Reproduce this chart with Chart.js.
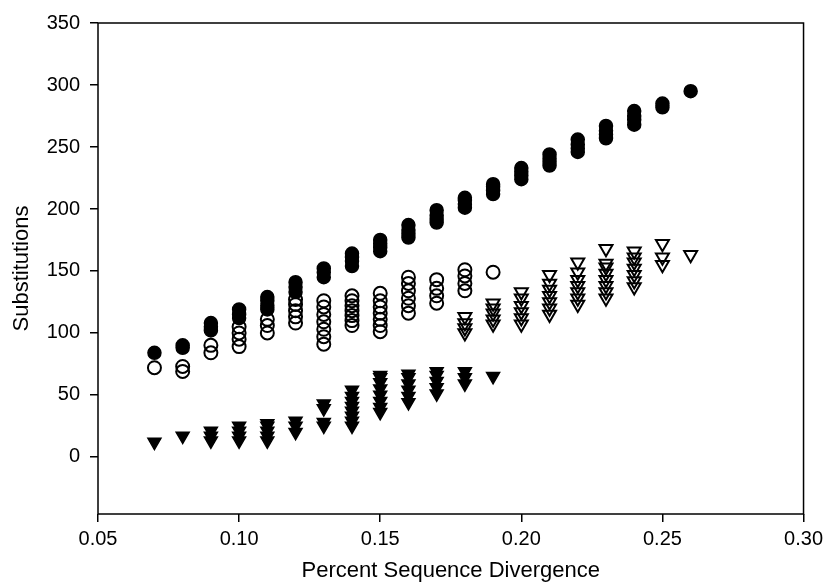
<!DOCTYPE html>
<html>
<head>
<meta charset="utf-8">
<script src="https://cdn.jsdelivr.net/npm/chart.js@4/dist/chart.umd.min.js"></script>
<style>
    body { margin: 0; background: #fff; }
    #wrap { width: 828px; height: 587px; position: relative; }
</style>
</head>
<body>
<div id="wrap"><canvas id="divergenceChart"></canvas></div>
<script>
// x columns (percent sequence divergence)
const divergence = [0.07, 0.08, 0.09, 0.10, 0.11, 0.12, 0.13, 0.14, 0.15, 0.16,
                    0.17, 0.18, 0.19, 0.20, 0.21, 0.22, 0.23, 0.24, 0.25, 0.26];

// substitutions, one list per column
const filledCircles = [
    [84], [88, 90], [102, 105, 108], [112, 115, 119], [119, 122, 126, 129],
    [133, 137, 141], [145, 149, 152], [154, 158, 161, 164], [166, 169, 172, 175], [177, 180, 183, 187],
    [189, 192, 195, 199], [201, 204, 207, 209], [212, 215, 218, 220], [224, 227, 230, 233], [235, 238, 241, 244],
    [246, 249, 252, 256], [257, 260, 263, 267], [268, 272, 275, 279], [282, 285], [295]
];
const openCircles = [
    [72], [69, 73], [84, 90], [89, 95, 100, 105], [100, 106, 111],
    [108, 113, 118, 123, 127], [91, 97, 103, 109, 115, 121, 126], [106, 110, 114, 118, 122, 126, 130],
    [101, 106, 111, 116, 121, 126, 132], [116, 122, 128, 134, 140, 145],
    [124, 130, 136, 143], [134, 140, 146, 151], [149], [], [],
    [], [], [], [], []
];
const filledTriangles = [
    [12], [17], [13, 17, 21], [13, 17, 21, 25], [13, 17, 21, 25, 27],
    [20, 25, 29], [25, 28, 39, 43], [25, 29, 33, 37, 41, 45, 49, 54],
    [36, 40, 45, 50, 55, 60, 64, 66], [44, 49, 54, 59, 64, 67],
    [51, 56, 61, 66, 69], [59, 64, 69], [65], [], [],
    [], [], [], [], []
];
const openTriangles = [
    [], [], [], [], [],
    [], [], [], [], [],
    [], [100, 104, 108, 113], [107, 111, 116, 120, 124], [107, 112, 117, 122, 128, 133],
    [115, 120, 125, 130, 135, 140, 147],
    [123, 128, 133, 138, 143, 149, 157], [128, 133, 138, 143, 148, 153, 156, 168],
    [137, 142, 147, 152, 157, 161, 166], [155, 161, 172], [163]
];

// axis ticks
const xTicks = [0.05, 0.10, 0.15, 0.20, 0.25, 0.30];
const yTicks = [0, 50, 100, 150, 200, 250, 300, 350];

function buildPoints(columns) {
    const points = [];
    divergence.forEach((x, i) => {
        columns[i].forEach((y) => points.push({ x: x, y: y }));
    });
    return points;
}

// box around the plot area
const framePlugin = {
    id: "frame",
    afterDatasetsDraw(chart) {
        const { ctx, chartArea } = chart;
        ctx.save();
        ctx.strokeStyle = "#000";
        ctx.lineWidth = 1.5;
        ctx.strokeRect(chartArea.left, chartArea.top,
            chartArea.right - chartArea.left, chartArea.bottom - chartArea.top);
        ctx.restore();
    },
};

const fontFamily = "'Liberation Sans', Arial, Helvetica, sans-serif";

new Chart(document.getElementById("divergenceChart"), {
    type: "scatter",
    data: {
        datasets: [
            {
                label: "filled circles",
                data: buildPoints(filledCircles),
                pointStyle: "circle",
                pointRadius: 6.5,
                backgroundColor: "#000",
                borderColor: "#000",
                borderWidth: 1.5,
            },
            {
                label: "open circles",
                data: buildPoints(openCircles),
                pointStyle: "circle",
                pointRadius: 6.5,
                backgroundColor: "rgba(0,0,0,0)",
                borderColor: "#000",
                borderWidth: 2,
            },
            {
                label: "filled triangles",
                data: buildPoints(filledTriangles),
                pointStyle: "triangle",
                rotation: 180,
                pointRadius: 7.5,
                backgroundColor: "#000",
                borderColor: "#000",
                borderWidth: 1.5,
            },
            {
                label: "open triangles",
                data: buildPoints(openTriangles),
                pointStyle: "triangle",
                rotation: 180,
                pointRadius: 7.5,
                backgroundColor: "rgba(0,0,0,0)",
                borderColor: "#000",
                borderWidth: 2,
            },
        ],
    },
    options: {
        responsive: true,
        maintainAspectRatio: false,
        animation: false,
        layout: {
            padding: { left: 0, top: 23, right: 20, bottom: 0 },
        },
        scales: {
            x: {
                type: "linear",
                min: 0.05,
                max: 0.30,
                afterBuildTicks: (scale) => {
                    scale.ticks = xTicks.map((v) => ({ value: v }));
                },
                afterFit: (scale) => {
                    scale.height = 73;
                },
                border: { display: false },
                grid: {
                    drawOnChartArea: false,
                    drawTicks: true,
                    tickLength: 8,
                    color: "#000",
                    lineWidth: 1.5,
                },
                ticks: {
                    color: "#000",
                    padding: 5,
                    maxRotation: 0,
                    font: { family: fontFamily, size: 20 },
                    callback: (v) => Number(v).toFixed(2),
                },
                title: {
                    display: true,
                    text: "Percent Sequence Divergence",
                    color: "#000",
                    font: { family: fontFamily, size: 22 },
                    padding: { top: 0, bottom: 3 },
                },
            },
            y: {
                type: "linear",
                min: -46,
                max: 350,
                afterBuildTicks: (scale) => {
                    scale.ticks = yTicks.map((v) => ({ value: v }));
                },
                afterFit: (scale) => {
                    scale.width = 98;
                },
                border: { display: false },
                grid: {
                    drawOnChartArea: false,
                    drawTicks: true,
                    tickLength: 8,
                    color: "#000",
                    lineWidth: 1.5,
                },
                ticks: {
                    color: "#000",
                    padding: 10,
                    font: { family: fontFamily, size: 20 },
                },
                title: {
                    display: true,
                    text: "Substitutions",
                    color: "#000",
                    font: { family: fontFamily, size: 22 },
                    padding: { top: 9, bottom: 0 },
                },
            },
        },
        plugins: {
            legend: { display: false },
            tooltip: { enabled: false },
        },
    },
    plugins: [framePlugin],
});
</script>
</body>
</html>
